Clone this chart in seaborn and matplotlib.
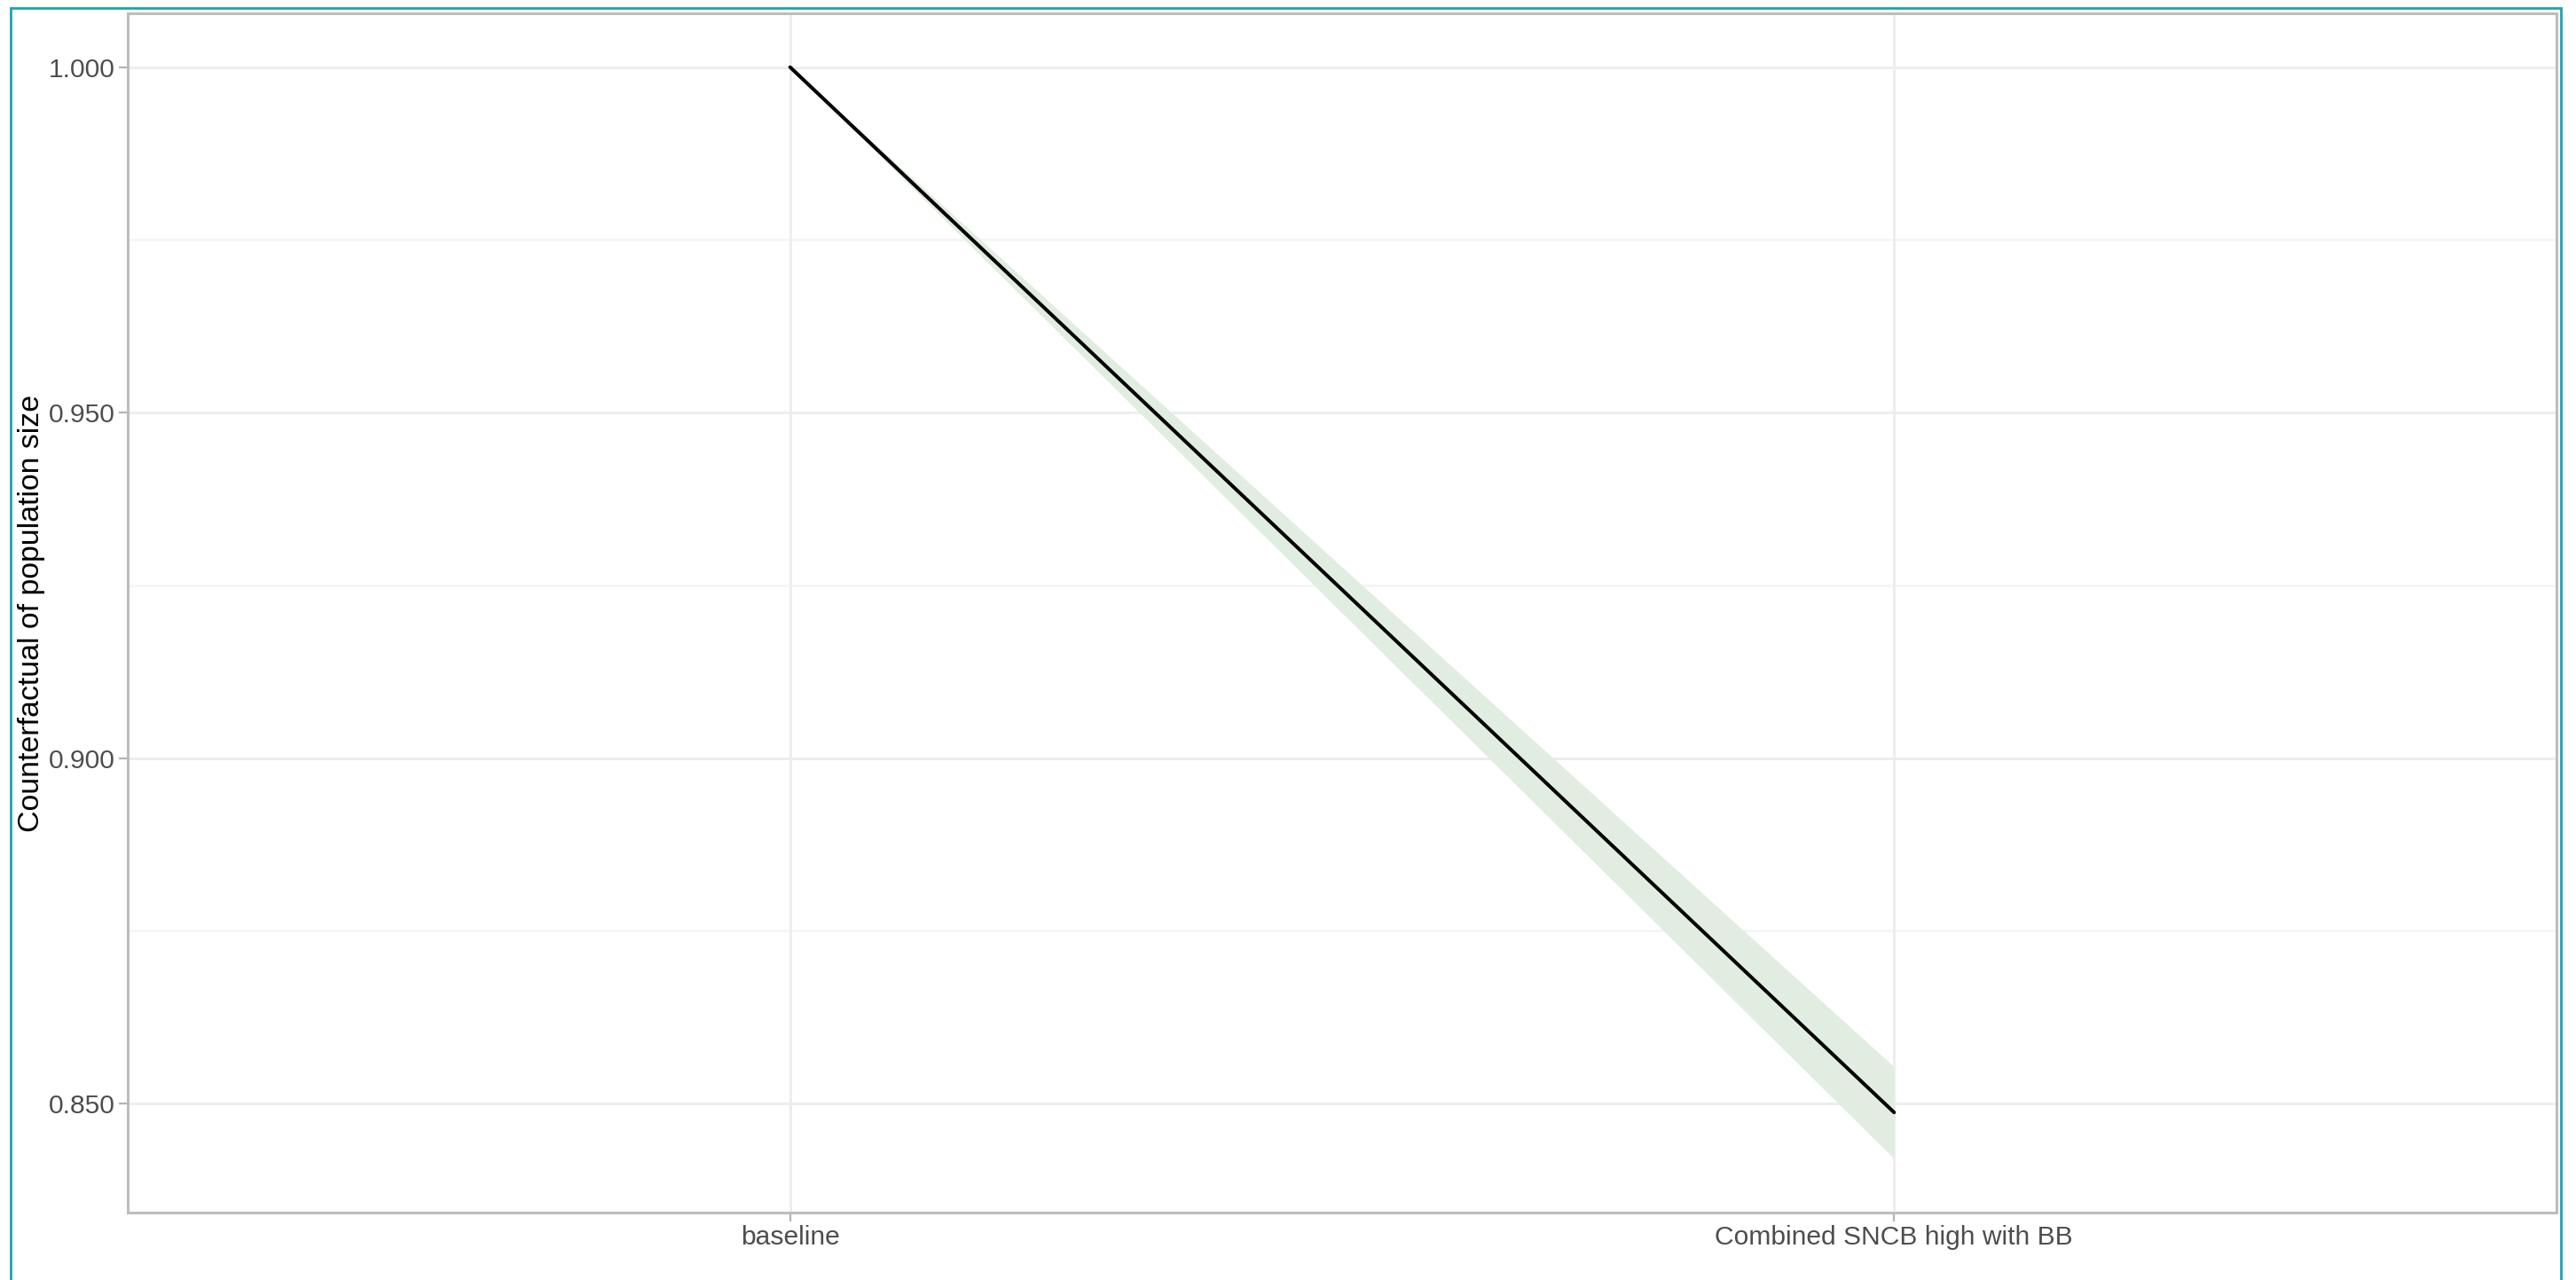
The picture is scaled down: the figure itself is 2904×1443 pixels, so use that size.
import numpy as np
import pandas as pd
import matplotlib
matplotlib.use("Agg")
import matplotlib.pyplot as plt
import seaborn as sns
from matplotlib.patches import Rectangle

# ---- data ----
scenarios = ["baseline", "Combined SNCB high with BB"]
mean_vals = [1.000, 0.8487]
lower_vals = [1.000, 0.8420]
upper_vals = [1.000, 0.8553]
y_ticks = [0.850, 0.900, 0.950, 1.000]
y_minor = [0.875, 0.925, 0.975]

df = pd.DataFrame({
    "scenario": scenarios,
    "pos": np.arange(1, len(scenarios) + 1),
    "mean": mean_vals,
    "lower": lower_vals,
    "upper": upper_vals,
})

sns.set_theme(style="white")
plt.rcParams["font.family"] = ["Liberation Sans", "DejaVu Sans"]

W, H, DPI = 2904, 1443, 200
fig = plt.figure(figsize=(W / DPI, H / DPI), dpi=DPI)
fig.patch.set_facecolor("white")

left, right, top, bottom = 144 / W, 2882 / W, 1 - 15 / H, 1 - 1367 / H
ax = fig.add_axes([left, bottom, right - left, top - bottom])
ax.set_facecolor("white")

grid_col = "#EDEDED"
for yv in y_minor:
    ax.axhline(yv, color="#F4F4F4", lw=0.9, zorder=0)
for yv in y_ticks:
    ax.axhline(yv, color=grid_col, lw=1.0, zorder=0)
for xv in df["pos"]:
    ax.axvline(xv, color=grid_col, lw=1.0, zorder=0)

ax.fill_between(df["pos"], df["lower"], df["upper"], color="#E2EDE1", lw=0, zorder=1)
sns.lineplot(data=df, x="pos", y="mean", color="black", linewidth=1.45, ax=ax, zorder=2)

ax.set_xlim(0.4, 2.6)
ax.set_ylim(0.8342, 1.0078)
ax.set_xticks(df["pos"])
ax.set_xticklabels(scenarios)
ax.set_yticks(y_ticks)
ax.set_yticklabels([f"{v:.3f}" for v in y_ticks])
ax.tick_params(axis="both", which="major", labelsize=10.8, labelcolor="#4D4D4D",
               color="#B3B3B3", length=3.5, width=0.8, pad=1.5, left=True, bottom=True)
ax.set_xlabel("")
ax.set_ylabel("Counterfactual of population size", fontsize=12.2, color="black")
ax.yaxis.set_label_coords(-(144 - 51) / (2882 - 144), 0.5)

for sp in ax.spines.values():
    sp.set_visible(True)
    sp.set_color("#BDBDBD")
    sp.set_linewidth(1.1)

# teal outer frame
frame = Rectangle((12 / W, -0.05), (2887 - 12) / W, 1 - 9 / H + 0.05,
                  transform=fig.transFigure, fill=False, edgecolor="#1AA3B3",
                  linewidth=1.0, clip_on=False)
fig.patches.append(frame)

fig.savefig("out.png", dpi=DPI, facecolor="white")
